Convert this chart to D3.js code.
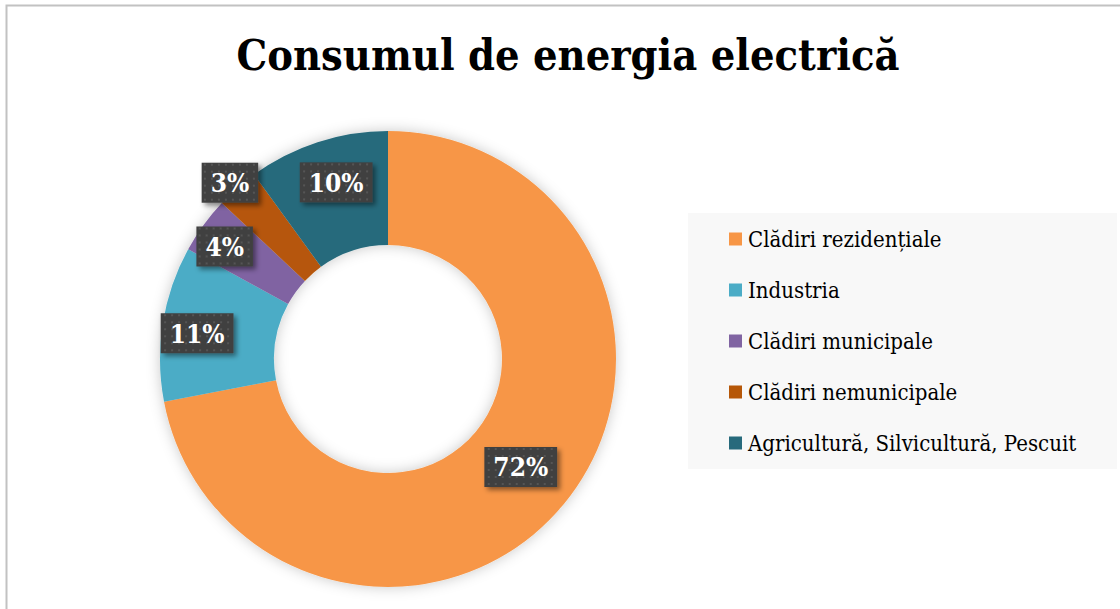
<!DOCTYPE html>
<html>
<head>
<meta charset="utf-8">
<script src="https://cdn.jsdelivr.net/npm/d3@7"></script>
<style>
  body { margin: 0; background: #fff; }
  svg { display: block; }
</style>
</head>
<body>
<div id="chart"></div>
<script>
// chart data
var categories = ["Clădiri rezidențiale", "Industria", "Clădiri municipale", "Clădiri nemunicipale", "Agricultură, Silvicultură, Pescuit"];
var values = [72, 11, 4, 3, 10];
var colors = ["#f79646", "#4bacc6", "#8064a2", "#b65708", "#276a7c"];
var title = "Consumul de energia electrică";

var W = 1120, H = 609;
var cx = 388, cy = 359;
var outerR = 228, innerR = 114;
var serif = "'DejaVu Serif Condensed', 'DejaVu Serif', serif";

// label nudges (like excel's best fit), in px from the ring middle
var labelShift = [[1, -1], [-22, 1], [-25, -12], [-45, -48], [1, -14]];

var svg = d3.select("#chart")
  .append("svg")
    .attr("width", W)
    .attr("height", H);

var defs = svg.append("defs");

var f = defs.append("filter")
  .attr("id", "ringshadow")
  .attr("x", "-20%").attr("y", "-20%")
  .attr("width", "140%").attr("height", "140%");
f.append("feDropShadow")
  .attr("dx", 0).attr("dy", 0)
  .attr("stdDeviation", 7)
  .attr("flood-color", "#000")
  .attr("flood-opacity", 0.22);

var f2 = defs.append("filter")
  .attr("id", "boxshadow")
  .attr("x", "-30%").attr("y", "-30%")
  .attr("width", "160%").attr("height", "160%");
f2.append("feDropShadow")
  .attr("dx", 3).attr("dy", 3)
  .attr("stdDeviation", 2.5)
  .attr("flood-color", "#000")
  .attr("flood-opacity", 0.45);

var pat = defs.append("pattern")
  .attr("id", "dots")
  .attr("width", 7).attr("height", 7)
  .attr("patternUnits", "userSpaceOnUse");
pat.append("rect").attr("width", 7).attr("height", 7).attr("fill", "#404040");
pat.append("rect").attr("x", 2).attr("y", 2).attr("width", 2).attr("height", 2).attr("fill", "#555");

// outer border (only top + left visible)
svg.append("rect")
  .attr("x", 6.5).attr("y", 5.5)
  .attr("width", W + 10).attr("height", H + 10)
  .attr("fill", "none")
  .attr("stroke", "#c2c2c2")
  .attr("stroke-width", 2);

// title
svg.append("text")
  .attr("x", 568)
  .attr("y", 70)
  .attr("text-anchor", "middle")
  .attr("font-family", serif)
  .attr("font-weight", "bold")
  .attr("font-size", 43)
  .attr("textLength", 663)
  .attr("lengthAdjust", "spacingAndGlyphs")
  .attr("fill", "#000")
  .text(title);

// donut
var pie = d3.pie().sort(null).value(d => d)(values);
var arc = d3.arc().innerRadius(innerR).outerRadius(outerR);
var midArc = d3.arc().innerRadius((innerR + outerR) / 2).outerRadius((innerR + outerR) / 2);

var g = svg.append("g")
  .attr("transform", `translate(${cx}, ${cy})`);

g.append("g")
  .attr("filter", "url(#ringshadow)")
  .selectAll("path")
  .data(pie)
  .join("path")
    .attr("d", arc)
    .attr("fill", (d, i) => colors[i]);

// data labels
var lab = g.selectAll(".lab")
  .data(pie)
  .join("g")
    .attr("class", "lab")
    .attr("transform", (d, i) => {
      var c = midArc.centroid(d);
      return `translate(${c[0] + labelShift[i][0]}, ${c[1] + labelShift[i][1]})`;
    });

lab.append("rect");
lab.append("text")
  .attr("text-anchor", "middle")
  .attr("dy", "0.36em")
  .attr("font-family", serif)
  .attr("font-weight", "bold")
  .attr("font-size", 26)
  .attr("fill", "#fff")
  .text(d => d.data + "%");

lab.each(function() {
  var t = d3.select(this).select("text").node().getBBox();
  d3.select(this).select("rect")
    .attr("x", -t.width / 2 - 9)
    .attr("y", -20)
    .attr("width", t.width + 18)
    .attr("height", 40)
    .attr("fill", "url(#dots)")
    .attr("filter", "url(#boxshadow)");
});

// legend
var legend = svg.append("g")
  .attr("transform", "translate(688, 213)");

legend.append("rect")
  .attr("width", 429)
  .attr("height", 256)
  .attr("fill", "#f8f8f8");

var rowY = d3.scalePoint()
  .domain(categories)
  .range([26, 230]);

var item = legend.selectAll(".item")
  .data(categories)
  .join("g")
    .attr("class", "item")
    .attr("transform", d => `translate(41, ${rowY(d)})`);

item.append("rect")
  .attr("y", -6.5)
  .attr("width", 13)
  .attr("height", 13)
  .attr("fill", (d, i) => colors[i]);

item.append("text")
  .attr("x", 19)
  .attr("dy", "0.35em")
  .attr("font-family", serif)
  .attr("font-size", 22)
  .attr("fill", "#000")
  .text(d => d);
</script>
</body>
</html>
